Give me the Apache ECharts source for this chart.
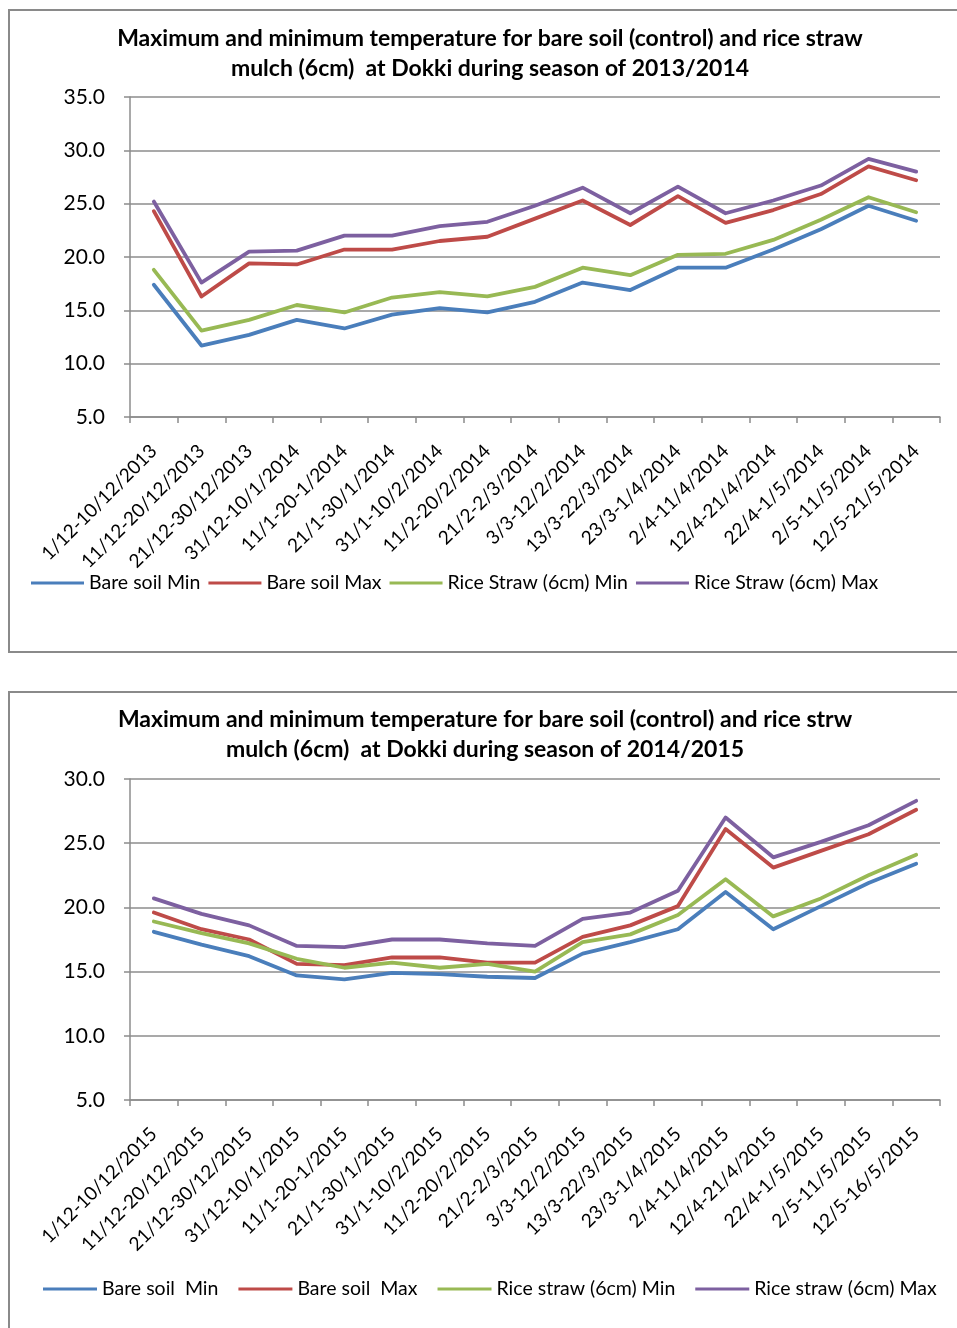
<!DOCTYPE html>
<html>
<head>
<meta charset="utf-8">
<title>Soil temperature under rice straw mulch at Dokki</title>
<script src="https://cdn.jsdelivr.net/npm/echarts@6/dist/echarts.min.js"></script>
<style>
  html, body { margin: 0; padding: 0; background: #ffffff; }
  #chart { width: 957px; height: 1328px; }
</style>
</head>
<body>
<div id="chart"></div>
<script>
// ---- Season 2013/2014 (ten-day periods) ----
const periods2014 = [
  '1/12-10/12/2013', '11/12-20/12/2013', '21/12-30/12/2013', '31/12-10/1/2014',
  '11/1-20-1/2014', '21/1-30/1/2014', '31/1-10/2/2014', '11/2-20/2/2014',
  '21/2-2/3/2014', '3/3-12/2/2014', '13/3-22/3/2014', '23/3-1/4/2014',
  '2/4-11/4/2014', '12/4-21/4/2014', '22/4-1/5/2014', '2/5-11/5/2014', '12/5-21/5/2014'
];
const bareMin2014 = [17.4, 11.7, 12.7, 14.1, 13.3, 14.6, 15.2, 14.8, 15.8, 17.6, 16.9, 19.0, 19.0, 20.7, 22.6, 24.8, 23.4];
const bareMax2014 = [24.3, 16.3, 19.4, 19.3, 20.7, 20.7, 21.5, 21.9, 23.6, 25.3, 23.0, 25.7, 23.2, 24.4, 25.9, 28.5, 27.2];
const strawMin2014 = [18.8, 13.1, 14.1, 15.5, 14.8, 16.2, 16.7, 16.3, 17.2, 19.0, 18.3, 20.2, 20.3, 21.6, 23.5, 25.6, 24.2];
const strawMax2014 = [25.2, 17.6, 20.5, 20.6, 22.0, 22.0, 22.9, 23.3, 24.8, 26.5, 24.1, 26.6, 24.1, 25.3, 26.7, 29.2, 28.0];

// ---- Season 2014/2015 ----
const periods2015 = [
  '1/12-10/12/2015', '11/12-20/12/2015', '21/12-30/12/2015', '31/12-10/1/2015',
  '11/1-20-1/2015', '21/1-30/1/2015', '31/1-10/2/2015', '11/2-20/2/2015',
  '21/2-2/3/2015', '3/3-12/2/2015', '13/3-22/3/2015', '23/3-1/4/2015',
  '2/4-11/4/2015', '12/4-21/4/2015', '22/4-1/5/2015', '2/5-11/5/2015', '12/5-16/5/2015'
];
const bareMin2015 = [18.1, 17.1, 16.2, 14.7, 14.4, 14.9, 14.8, 14.6, 14.5, 16.4, 17.3, 18.3, 21.2, 18.3, 20.1, 21.9, 23.4];
const bareMax2015 = [19.6, 18.3, 17.5, 15.6, 15.5, 16.1, 16.1, 15.7, 15.7, 17.7, 18.6, 20.1, 26.1, 23.1, 24.4, 25.7, 27.6];
const strawMin2015 = [18.9, 18.0, 17.2, 16.0, 15.3, 15.7, 15.3, 15.6, 15.0, 17.3, 17.9, 19.4, 22.2, 19.3, 20.7, 22.5, 24.1];
const strawMax2015 = [20.7, 19.5, 18.6, 17.0, 16.9, 17.5, 17.5, 17.2, 17.0, 19.1, 19.6, 21.3, 27.0, 23.9, 25.1, 26.4, 28.3];

const names2014 = ['Bare soil Min', 'Bare soil Max', 'Rice Straw (6cm) Min', 'Rice Straw (6cm) Max'];
const names2015 = ['Bare soil  Min', 'Bare soil  Max', 'Rice straw (6cm) Min', 'Rice straw (6cm) Max'];

const lineColors = ['#4A7EBB', '#BE4B48', '#98B954', '#7D60A0'];
const FONT = 'Lato, "Open Sans", sans-serif';
const GRID_GREY = '#8C8C8C';

function lineSeries(name, data, color, idx) {
  return {
    name: name,
    type: 'line',
    xAxisIndex: idx,
    yAxisIndex: idx,
    data: data,
    symbol: 'none',
    smooth: false,
    lineStyle: { color: color, width: 3.8, cap: 'round', join: 'round' },
    itemStyle: { color: color },
    emphasis: { disabled: true }
  };
}

function categoryAxis(idx, cats) {
  return {
    type: 'category',
    gridIndex: idx,
    data: cats,
    boundaryGap: true,
    axisLine: { show: true, lineStyle: { color: GRID_GREY, width: 1.5 } },
    axisTick: { show: true, alignWithLabel: false, length: 6, lineStyle: { color: GRID_GREY, width: 1.5 } },
    axisLabel: {
      interval: 0, rotate: 45, margin: 31,
      color: '#000', fontFamily: FONT, fontSize: 19
    },
    splitLine: { show: false }
  };
}

function valueAxis(idx, max) {
  return {
    type: 'value',
    gridIndex: idx,
    min: 5, max: max, interval: 5,
    axisLine: { show: true, lineStyle: { color: GRID_GREY, width: 1.5 } },
    axisTick: { show: true, inside: false, length: 6, lineStyle: { color: GRID_GREY, width: 1.5 } },
    axisLabel: {
      margin: 25, color: '#000', fontFamily: FONT, fontSize: 21,
      formatter: v => v.toFixed(1)
    },
    splitLine: { show: true, lineStyle: { color: GRID_GREY, width: 1.5 } }
  };
}

const titleStyle = { color: '#000', fontFamily: FONT, fontSize: 23, fontWeight: 'bold', lineHeight: 30 };
const legendText = { color: '#000', fontFamily: FONT, fontSize: 19.5 };

const option = {
  animation: false,
  backgroundColor: '#ffffff',
  title: [
    {
      text: 'Maximum and minimum temperature for bare soil (control) and rice straw\nmulch (6cm)  at Dokki during season of 2013/2014',
      left: 485, top: 19, textAlign: 'center',
      textStyle: titleStyle
    },
    {
      text: 'Maximum and minimum temperature for bare soil (control) and rice strw\nmulch (6cm)  at Dokki during season of 2014/2015',
      left: 480, top: 700, textAlign: 'center',
      textStyle: titleStyle
    }
  ],
  legend: [
    {
      data: names2014, left: 26, top: 568,
      icon: 'rect', itemWidth: 53, itemHeight: 3, itemGap: 8,
      textStyle: legendText, selectedMode: false
    },
    {
      data: names2015, left: 38, top: 1274,
      icon: 'rect', itemWidth: 54, itemHeight: 3, itemGap: 20,
      textStyle: legendText, selectedMode: false
    }
  ],
  grid: [
    { left: 130, top: 97, width: 810, height: 320 },
    { left: 130, top: 779, width: 810, height: 321 }
  ],
  xAxis: [categoryAxis(0, periods2014), categoryAxis(1, periods2015)],
  yAxis: [valueAxis(0, 35), valueAxis(1, 30)],
  series: [
    lineSeries(names2014[0], bareMin2014, lineColors[0], 0),
    lineSeries(names2014[1], bareMax2014, lineColors[1], 0),
    lineSeries(names2014[2], strawMin2014, lineColors[2], 0),
    lineSeries(names2014[3], strawMax2014, lineColors[3], 0),
    lineSeries(names2015[0], bareMin2015, lineColors[0], 1),
    lineSeries(names2015[1], bareMax2015, lineColors[1], 1),
    lineSeries(names2015[2], strawMin2015, lineColors[2], 1),
    lineSeries(names2015[3], strawMax2015, lineColors[3], 1)
  ],
  graphic: [
    // chart frames
    { type: 'rect', shape: { x: 9, y: 10, width: 960, height: 642 }, style: { fill: 'none', stroke: '#8A8A8A', lineWidth: 2 }, silent: true },
    { type: 'rect', shape: { x: 9, y: 692, width: 960, height: 660 }, style: { fill: 'none', stroke: '#8A8A8A', lineWidth: 2 }, silent: true }
  ]
};

const chart = echarts.init(document.getElementById('chart'), null, { renderer: 'canvas' });
chart.setOption(option);
</script>
</body>
</html>
